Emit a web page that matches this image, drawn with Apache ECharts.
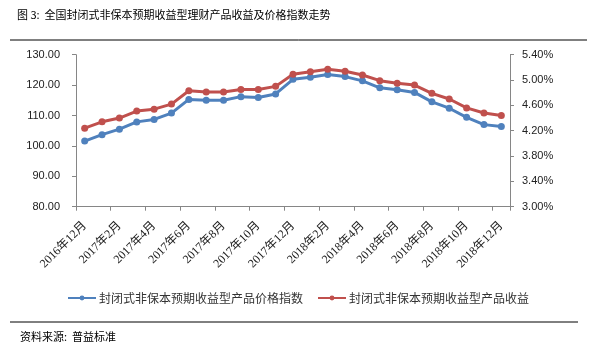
<!DOCTYPE html>
<html>
<head>
<meta charset="utf-8">
<script src="https://cdn.jsdelivr.net/npm/echarts@6/dist/echarts.min.js"></script>
<style>
html,body{margin:0;padding:0;background:#fff;}
#c{width:597px;height:357px;}
</style>
</head>
<body>
<div id="c"></div>
<script>
var categories = ['2016年12月','2017年1月','2017年2月','2017年3月','2017年4月','2017年5月','2017年6月','2017年7月','2017年8月','2017年9月','2017年10月','2017年11月','2017年12月','2018年1月','2018年2月','2018年3月','2018年4月','2018年5月','2018年6月','2018年7月','2018年8月','2018年9月','2018年10月','2018年11月','2018年12月'];
var priceIndex = [101.6,103.7,105.5,107.9,108.7,110.8,115.3,115.0,115.0,116.2,115.9,117.1,121.9,122.6,123.5,122.8,121.4,119.1,118.5,117.6,114.5,112.4,109.4,107.0,106.4];
var yieldPct = [4.24,4.34,4.40,4.51,4.54,4.62,4.83,4.81,4.81,4.85,4.85,4.90,5.09,5.13,5.17,5.14,5.08,4.99,4.95,4.92,4.79,4.70,4.56,4.48,4.44];
var leftTicks = {min:80, max:130, interval:10};
var rightTicks = {min:3.0, max:5.4, interval:0.4};
var seriesNames = ['封闭式非保本预期收益型产品价格指数','封闭式非保本预期收益型产品收益'];
var titleText = '图 3:  全国封闭式非保本预期收益型理财产品收益及价格指数走势';
var sourceText = '资料来源:  普益标准';

var chart = echarts.init(document.getElementById('c'), null, {renderer:'canvas'});
var numFont = 'Liberation Sans, Arial, sans-serif';
var cjkFont = 'Liberation Serif, Noto Sans CJK SC, serif';
chart.setOption({
  animation:false,
  backgroundColor:'#fff',
  grid:{left:76, right:87, top:54.7, bottom:150.3, containLabel:false},
  legend:{
    top:287, left:62,
    itemWidth:28, itemHeight:6, itemGap:14,
    textStyle:{fontSize:12, color:'#333', fontFamily:'Noto Sans CJK SC', padding:[0,0,0,-2]},
    data:seriesNames
  },
  xAxis:{
    type:'category', data:categories, boundaryGap:true,
    axisLine:{lineStyle:{color:'#868686', width:1}},
    axisTick:{show:true, interval:1, length:4, lineStyle:{color:'#868686'}},
    axisLabel:{interval:1, rotate:45, fontSize:12, color:'#222', fontFamily:cjkFont, margin:17}
  },
  yAxis:[{
    type:'value', min:leftTicks.min, max:leftTicks.max, interval:leftTicks.interval,
    axisLine:{show:true, lineStyle:{color:'#868686'}},
    axisTick:{show:true, length:4, lineStyle:{color:'#868686'}},
    splitLine:{show:false},
    axisLabel:{fontSize:11, color:'#222', fontFamily:numFont, margin:16, formatter:function(v){return v.toFixed(2);}}
  },{
    type:'value', min:rightTicks.min, max:rightTicks.max, interval:rightTicks.interval,
    position:'right',
    axisLine:{show:true, lineStyle:{color:'#868686'}},
    axisTick:{show:true, length:4, lineStyle:{color:'#868686'}},
    splitLine:{show:false},
    axisLabel:{fontSize:11, color:'#222', fontFamily:numFont, margin:12, formatter:function(v){return v.toFixed(2)+'%';}}
  }],
  series:[{
    name:seriesNames[0], type:'line', yAxisIndex:0, data:priceIndex,
    symbol:'circle', symbolSize:7, showAllSymbol:true,
    lineStyle:{color:'#4F81BD', width:3},
    itemStyle:{color:'#4F81BD'}
  },{
    name:seriesNames[1], type:'line', yAxisIndex:1, data:yieldPct,
    symbol:'circle', symbolSize:7, showAllSymbol:true,
    lineStyle:{color:'#C0504D', width:3},
    itemStyle:{color:'#C0504D'}
  }],
  graphic:[
    {type:'text', left:17, top:9, style:{text:titleText, fontSize:11, fill:'#000', fontFamily:'Noto Sans CJK SC'}},
    {type:'line', shape:{x1:10, y1:40, x2:587, y2:40}, style:{stroke:'#000', lineWidth:1}},
    {type:'line', shape:{x1:10, y1:322, x2:578, y2:322}, style:{stroke:'#000', lineWidth:1}},
    {type:'text', left:20, top:331, style:{text:sourceText, fontSize:11, fill:'#000', fontFamily:'Noto Sans CJK SC'}}
  ]
});
</script>
</body>
</html>
